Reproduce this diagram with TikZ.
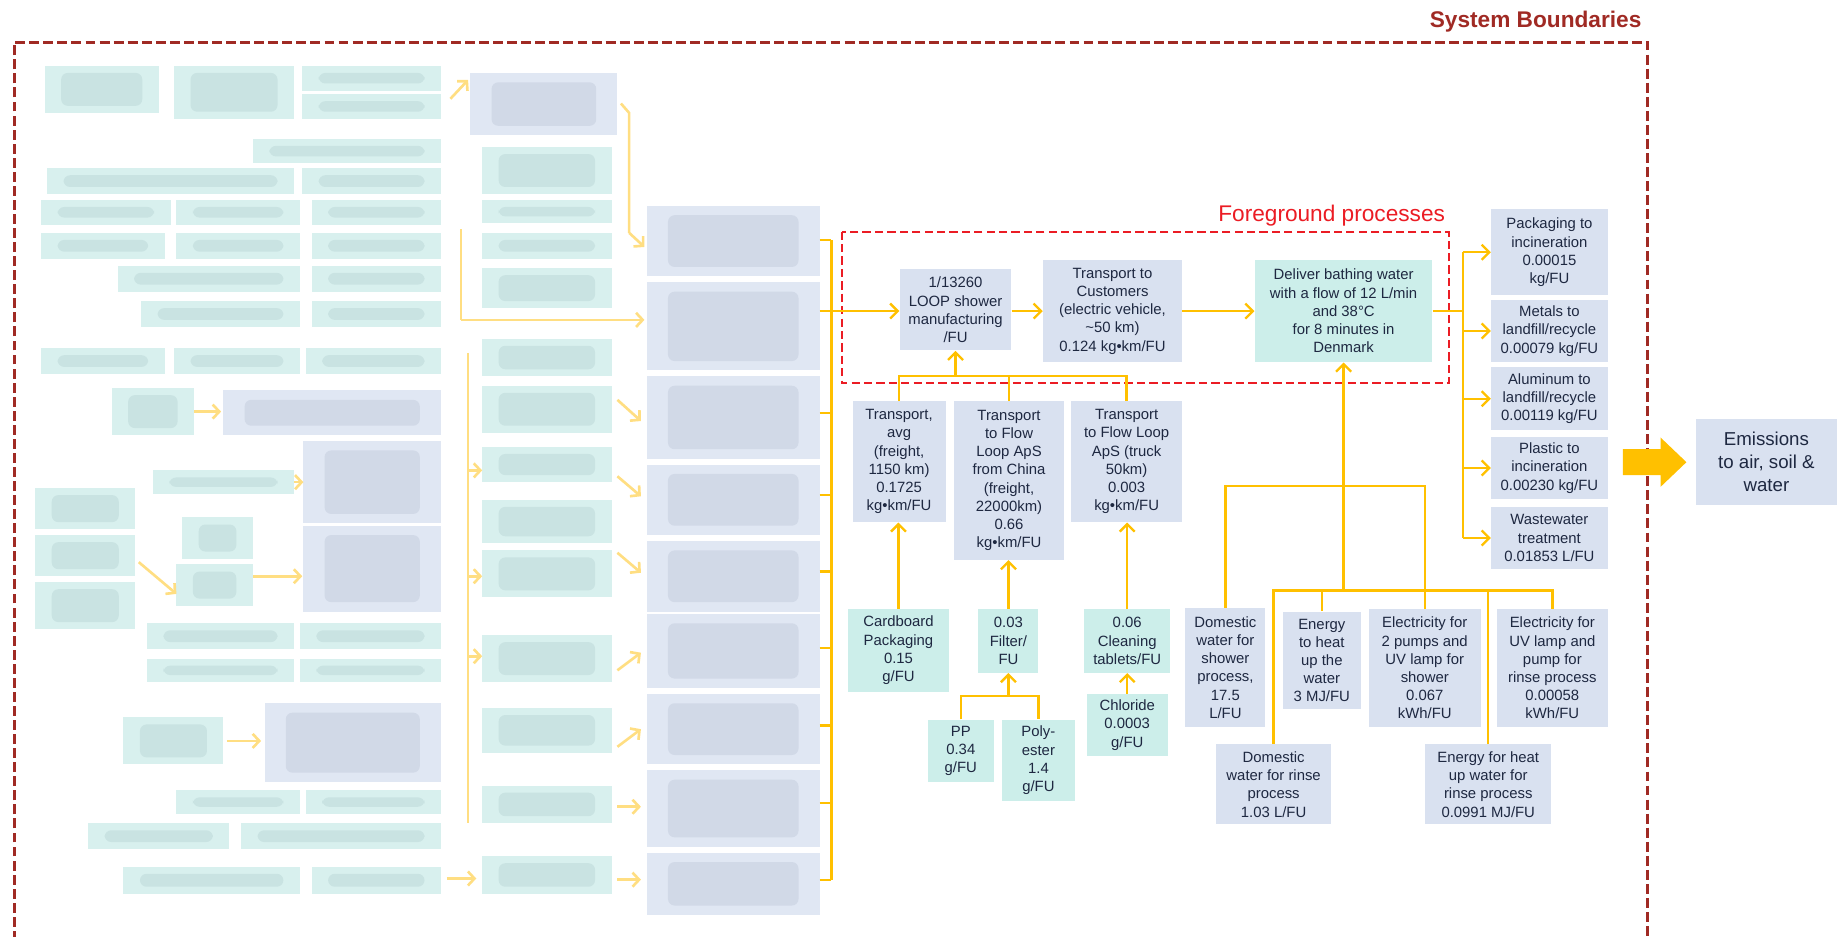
\documentclass[tikz,border=0pt]{standalone}
\usepackage{fontspec}
\setmainfont{Liberation Sans}
\usepackage{xcolor}
\usepackage{tikz}
\usetikzlibrary{arrows.meta,positioning}

\definecolor{boxblue}{RGB}{217,225,240}
\definecolor{boxteal}{RGB}{204,238,234}
\definecolor{txtnavy}{RGB}{30,40,65}
\definecolor{flowgold}{RGB}{255,192,0}
\definecolor{boundred}{RGB}{160,42,36}
\definecolor{fgred}{RGB}{235,28,36}
\definecolor{hazeteal}{RGB}{216,240,238}
\definecolor{hazeblue}{RGB}{224,231,243}
\definecolor{smearteal}{RGB}{184,212,212}
\definecolor{smearblue}{RGB}{192,200,218}
\definecolor{hazegold}{RGB}{255,222,130}

\begin{document}
\begin{tikzpicture}[x=0.025cm, y=-0.025cm,
  pbox/.style={fill=boxblue, text=txtnavy, align=center, inner sep=1pt, font=\fontsize{9}{11}\selectfont},
  tbox/.style={pbox, fill=boxteal},
  wire/.style={draw=flowgold, line width=1.4pt},
  arr/.style={wire, -{Straight Barb[length=1.6mm,width=3.2mm]}},
  haze/.style={draw=hazegold, line width=1.6pt},
  hazearr/.style={haze, -{Straight Barb[length=1.4mm,width=3mm]}}
]
\useasboundingbox (0,0) rectangle (1568,796);

% blurred background inventory (left part)
\foreach \a/\b/\c/\d in {38/56/135/96, 148/56/250/101, 257/56/375/77, 257/80/375/101,
  215/118/375/139, 40/143/250/165, 257/143/375/165,
  35/170/145/191, 150/170/255/191, 265/170/375/191,
  35/198/140/220, 150/198/255/220, 265/198/375/220,
  100/226/255/248, 265/226/375/248, 120/256/255/278, 265/256/375/278,
  35/296/140/318, 148/296/255/318, 260/296/375/318, 95/330/165/370,
  130/400/250/420, 30/415/115/450, 30/455/115/490, 30/495/115/535,
  155/440/215/475, 150/480/215/515,
  125/530/250/552, 255/530/375/552, 125/560/250/580, 255/560/375/580,
  105/610/190/650, 150/672/255/692, 260/672/375/692,
  75/700/195/722, 205/700/375/722, 105/737/255/760, 265/737/375/760,
  410/125/520/165, 410/170/520/190, 410/198/520/220, 410/228/520/262,
  410/288/520/320, 410/328/520/368, 410/380/520/410, 410/425/520/462,
  410/468/520/508, 410/540/520/580, 410/602/520/640, 410/668/520/700, 410/728/520/760}{
  \fill[hazeteal] (\a,\b) rectangle (\c,\d);
  \fill[smearteal, opacity=.45, rounded corners=4pt] ({\a+14},{\b+6}) rectangle ({\c-14},{\d-6});
}
\foreach \a/\b/\c/\d in {400/62/525/115, 190/332/375/370, 258/375/375/445, 258/447/375/520, 225/598/375/665,
  550/175/697/235, 550/240/697/315, 550/320/697/390, 550/395/697/455, 550/460/697/520,
  550/522/697/585, 550/590/697/650, 550/655/697/720, 550/725/697/778}{
  \fill[hazeblue] (\a,\b) rectangle (\c,\d);
  \fill[smearblue, opacity=.45, rounded corners=4pt] ({\a+18},{\b+8}) rectangle ({\c-18},{\d-8});
}
\draw[haze] (528,88) -- (535,96) -- (535,198);
\draw[hazearr] (535,198) -- (548,210);
\draw[haze] (392,195) -- (392,272);
\draw[hazearr] (392,272) -- (548,272);
\draw[haze] (398,300) -- (398,700);
\foreach \xa/\ya/\xb/\yb in {383/84/398/68, 398/400/410/400, 398/490/410/490, 398/558/410/558,
  165/350/188/350, 250/410/258/410, 118/478/150/505, 215/490/257/490, 193/630/222/630, 380/747/405/747,
  525/340/545/358, 525/405/545/422, 525/470/545/487, 525/570/545/555, 525/635/545/620,
  525/686/545/686, 525/748/545/748}{
  \draw[hazearr] (\xa,\ya) -- (\xb,\yb);
}

% system boundary and foreground frame
\draw[boundred, line width=1.8pt, dash pattern=on 6pt off 2.5pt] (12,800) -- (12,36) -- (1401,36) -- (1401,800);
\node[anchor=base east, inner sep=0, text=boundred, font=\fontsize{13.7}{16}\selectfont\bfseries] (sysb) at (1396,23) {System Boundaries};
\draw[fgred, line width=1.3pt, dash pattern=on 5pt off 2.5pt] (716,197) rectangle (1232,326);
\node[anchor=base east, inner sep=0, text=fgred, font=\fontsize{13.7}{16}\selectfont] (fgp) at (1229,188) {Foreground processes};

% foreground chain
\node[pbox, minimum width=2.375cm, minimum height=1.725cm] (mfg) at (812.5,263.5) {1/13260\\LOOP shower\\manufacturing\\/FU};
\node[pbox, minimum width=2.95cm, minimum height=2.175cm] (custtr) at (946,264.5) {Transport to\\Customers\\(electric vehicle,\\\textasciitilde50 km)\\0.124 kg•km/FU};
\node[tbox, minimum width=3.775cm, minimum height=2.175cm] (deliver) at (1142.5,264.5) {Deliver bathing water\\with a flow of 12 L/min\\and 38°C\\for 8 minutes in\\Denmark};

% transport inputs
\node[pbox, minimum width=1.975cm, minimum height=2.575cm] (travg) at (764.5,392.5) {Transport,\\avg\\(freight,\\1150 km)\\0.1725\\kg•km/FU};
\node[pbox, minimum width=2.35cm, minimum height=3.375cm] (trchina) at (858,408.5) {Transport\\to Flow\\Loop ApS\\from China\\(freight,\\22000km)\\0.66\\kg•km/FU};
\node[pbox, minimum width=2.35cm, minimum height=2.575cm] (trtruck) at (958,392.5) {Transport\\to Flow Loop\\ApS (truck\\50km)\\0.003\\kg•km/FU};
\node[tbox, minimum width=2.15cm, minimum height=1.75cm] (cardb) at (764,553) {Cardboard\\Packaging\\0.15\\g/FU};
\node[tbox, minimum width=1.275cm, minimum height=1.35cm] (filter) at (857.5,545) {0.03\\Filter/\\FU};
\node[tbox, minimum width=1.825cm, minimum height=1.35cm] (clean) at (958.5,545) {0.06\\Cleaning\\tablets/FU};
\node[tbox, minimum width=1.725cm, minimum height=1.325cm] (chlor) at (958.5,616.5) {Chloride\\0.0003\\g/FU};
\node[tbox, minimum width=1.4cm, minimum height=1.325cm] (pp) at (817,638.5) {PP\\0.34\\g/FU};
\node[tbox, minimum width=1.55cm, minimum height=1.725cm] (poly) at (883,646.5) {Poly-\\ester\\1.4\\g/FU};

% use phase inputs
\node[pbox, minimum width=1.7cm, minimum height=2.525cm] (domshow) at (1042,567.5) {Domestic\\water for\\shower\\process,\\17.5\\L/FU};
\node[pbox, minimum width=1.65cm, minimum height=2.075cm] (enheat) at (1124,561.5) {Energy\\to heat\\up the\\water\\3 MJ/FU};
\node[pbox, minimum width=2.375cm, minimum height=2.5cm] (elpump) at (1211.5,568) {Electricity for\\2 pumps and\\UV lamp for\\shower\\0.067\\kWh/FU};
\node[pbox, minimum width=2.35cm, minimum height=2.5cm] (eluv) at (1320,568) {Electricity for\\UV lamp and\\pump for\\rinse process\\0.00058\\kWh/FU};
\node[pbox, minimum width=2.45cm, minimum height=1.7cm] (domrinse) at (1083,667) {Domestic\\water for rinse\\process\\1.03 L/FU};
\node[pbox, minimum width=2.675cm, minimum height=1.7cm] (enrinse) at (1265.5,667) {Energy for heat\\up water for\\rinse process\\0.0991 MJ/FU};

% end of life
\node[pbox, minimum width=2.475cm, minimum height=1.825cm] (packinc) at (1317.5,214.5) {Packaging to\\incineration\\0.00015\\kg/FU};
\node[pbox, minimum width=2.475cm, minimum height=1.325cm] (metals) at (1317.5,281.5) {Metals to\\landfill/recycle\\0.00079 kg/FU};
\node[pbox, minimum width=2.475cm, minimum height=1.35cm] (alu) at (1317.5,339) {Aluminum to\\landfill/recycle\\0.00119 kg/FU};
\node[pbox, minimum width=2.475cm, minimum height=1.3cm] (plast) at (1317.5,398) {Plastic to\\incineration\\0.00230 kg/FU};
\node[pbox, minimum width=2.475cm, minimum height=1.325cm] (wastew) at (1317.5,457.5) {Wastewater\\treatment\\0.01853 L/FU};
\node[pbox, minimum width=3cm, minimum height=1.825cm, font=\fontsize{11.3}{13.9}\selectfont] (emis) at (1502,392.5) {Emissions\\to air, soil \&\\water};

% connectors
\coordinate (lbtop) at (707,204);
\coordinate (lbbot) at (707,748);
\draw[wire] (lbtop) -- (lbbot);
\foreach \ty in {204,351,421,486,551,617,683,748}
  \draw[wire] (697,\ty) -- (lbtop |- 0,\ty);
\draw[arr] (697,264.5) -- (mfg.west |- 0,264.5);
\draw[arr] (mfg.east |- custtr.west) -- (custtr.west);
\draw[arr] (custtr.east) -- (deliver.west);

\coordinate (tjoin) at (812.5,320);
\draw[wire] (travg.north) |- (tjoin) -| (trtruck.north);
\draw[wire] (trchina.north) -- (trchina.north |- tjoin);
\draw[arr] (tjoin) -- (mfg.south);
\draw[arr] (cardb.north) -- (cardb.north |- travg.south);
\draw[arr] (filter.north) -- (filter.north |- trchina.south);
\draw[arr] (clean.north) -- (clean.north |- trtruck.south);
\draw[arr] (chlor.north) -- (chlor.north |- clean.south);
\coordinate (fjoin) at (857.5,592);
\draw[wire] (pp.north) |- (fjoin) -| (poly.north);
\draw[arr] (fjoin) -- (filter.south);

\coordinate (ujoin) at (1142.5,413);
\coordinate (ljoin) at (1142.5,502);
\draw[wire] (domshow.north) |- (ujoin) -| (elpump.north);
\draw[wire] (domrinse.north) |- (ljoin) -| (eluv.north);
\draw[wire] (enheat.north) -- (enheat.north |- ljoin);
\draw[wire] (enrinse.north) -- (enrinse.north |- ljoin);
\draw[arr] (ljoin) -- (deliver.south);

\coordinate (obus) at (1244,214.5);
\draw[wire] (deliver.east) -- (deliver.east -| obus);
\draw[wire] (obus) -- (obus |- wastew.west);
\draw[arr] (obus) -- (packinc.west);
\draw[arr] (obus |- metals.west) -- (metals.west);
\draw[arr] (obus |- alu.west) -- (alu.west);
\draw[arr] (obus |- plast.west) -- (plast.west);
\draw[arr] (obus |- wastew.west) -- (wastew.west);

% big arrow out of the system
\coordinate (btip) at (1434,393);
\fill[flowgold] (btip) -- ++(-22,-21) -- ++(0,10) -- ++(-32,0) -- ++(0,22) -- ++(32,0) -- ++(0,10) -- cycle;
\end{tikzpicture}
\end{document}
